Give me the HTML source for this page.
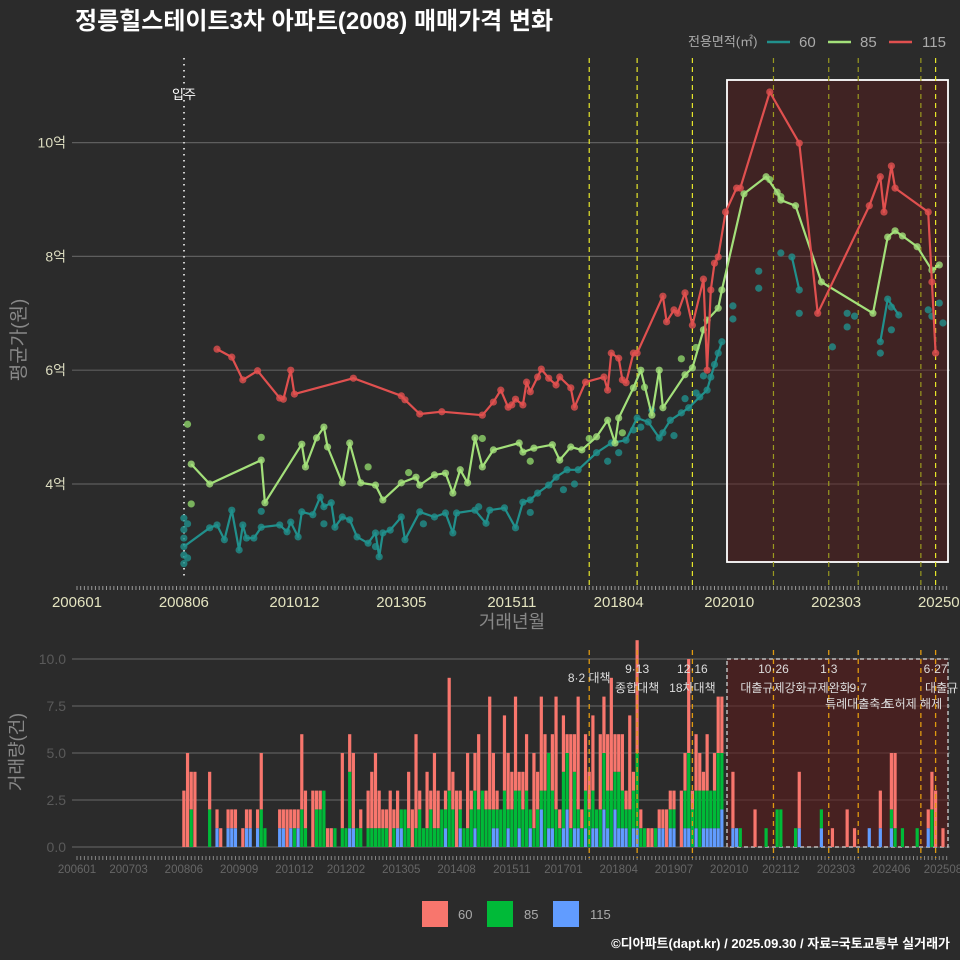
<!DOCTYPE html>
<html><head><meta charset="utf-8">
<style>
html,body{margin:0;padding:0;background:#2b2b2b;}
svg{display:block;font-family:"Liberation Sans","Noto Sans CJK KR",sans-serif;}
</style></head>
<body>
<svg id="chart" width="960" height="960" viewBox="0 0 960 960" xmlns="http://www.w3.org/2000/svg">
<rect width="960" height="960" fill="#2b2b2b"/>
<text x="75" y="29" fill="#ffffff" font-size="24" font-weight="bold">정릉힐스테이트3차 아파트(2008) 매매가격 변화</text>
<g id="legendTop">
<text x="688" y="46" fill="#aaaaaa" font-size="13">전용면적(㎡)</text>
<line x1="767" y1="42" x2="790" y2="42" stroke="#21908c" stroke-width="2.5"/><text x="799" y="47" fill="#aaaaaa" font-size="15">60</text>
<line x1="828" y1="42" x2="851" y2="42" stroke="#a3e07a" stroke-width="2.5"/><text x="860" y="47" fill="#aaaaaa" font-size="15">85</text>
<line x1="889" y1="42" x2="912" y2="42" stroke="#e0504f" stroke-width="2.5"/><text x="922" y="47" fill="#aaaaaa" font-size="15">115</text>
</g>
<g id="topPanel"></g>
<g id="botPanel"></g>
<text transform="translate(25,340) rotate(-90)" text-anchor="middle" fill="#888888" font-size="19">평균가(원)</text>
<text x="512" y="628" text-anchor="middle" fill="#888888" font-size="18">거래년월</text>
<text transform="translate(23,752) rotate(-90)" text-anchor="middle" fill="#888888" font-size="18">거래량(건)</text>
<g>
<rect x="422" y="901" width="26" height="26" fill="#f8766d"/><text x="458" y="919" fill="#aaaaaa" font-size="13">60</text>
<rect x="487" y="901" width="26" height="26" fill="#00ba38"/><text x="524" y="919" fill="#aaaaaa" font-size="13">85</text>
<rect x="553" y="901" width="26" height="26" fill="#619cff"/><text x="590" y="919" fill="#aaaaaa" font-size="13">115</text>
</g>
<text x="950" y="948" text-anchor="end" fill="#ffffff" font-size="13" font-weight="bold">©디아파트(dapt.kr) / 2025.09.30 / 자료=국토교통부 실거래가</text>
</svg>
<script>
// ---- data ----
const xTickLabelsTop = ['200601','200806','201012','201305','201511','201804','202010','202303','202508'];
const xTickLabelsBot = ['200601','200703','200806','200909','201012','201202','201305','201408','201511','201701','201804','201907','202010','202112','202303','202406','202508'];
const yTickValuesTop = [4,6,8,10];
const yTickLabelsTop = ['4억','6억','8억','10억'];
const yTickValuesBot = [0,2.5,5,7.5,10];
const yTickLabelsBot = ['0.0','2.5','5.0','7.5','10.0'];
const policyDates = ['201708','201809','201912','202110','202301','202309','202502','202506'];
const policyTop = ['8·2 대책','9·13','12·16','10·26','1·3','','','6·27'];
const policyBot = ['','종합대책','18차대책','대출규제강화','규제완화','9·7','','대출규'];
const policyBot2 = ['','','','','','특례대출축소','토허제 해제',''];

const dates115 = ['200903','200907','200910','201002','201008','201009','201011','201012','201204','201305','201306','201310','201404','201503','201506','201508','201510','201511','201512','201602','201603','201604','201606','201607','201609','201611','201612','201703','201704','201707','201712','201801','201802','201804','201805','201806','201808','201809','201904','201905','201907','201908','201910','201912','202003','202004','202005','202006','202007','202009','202012','202101','202109','202205','202210','202312','202403','202404','202406','202407','202504','202505','202506'];
const vals115 = [6.37,6.23,5.83,5.99,5.51,5.49,6.0,5.58,5.86,5.55,5.48,5.23,5.27,5.21,5.44,5.65,5.35,5.39,5.49,5.39,5.79,5.62,5.88,6.02,5.86,5.74,5.88,5.69,5.35,5.79,5.88,5.65,6.30,6.21,5.83,5.78,6.30,6.30,7.30,6.85,7.06,7.0,7.36,6.79,7.60,6.0,7.41,7.88,7.99,8.78,9.20,9.20,10.89,9.99,7.0,8.89,9.40,8.78,9.59,9.20,8.78,7.55,6.30];

const dates85 = ['200808','200901','201003','201004','201102','201103','201106','201108','201109','201201','201203','201206','201210','201212','201305','201309','201310','201402','201405','201407','201409','201411','201501','201503','201506','201601','201602','201605','201610','201612','201703','201706','201710','201801','201803','201804','201808','201810','201901','201903','201904','201910','201912','202003','202004','202007','202008','202102','202108','202111','202112','202204','202211','202401','202405','202407','202409','202501','202505','202507'];
const vals85 = [4.35,4.0,4.42,3.67,4.70,4.30,4.81,5.0,4.65,4.02,4.72,4.02,3.98,3.72,4.02,4.12,3.98,4.16,4.19,3.84,4.25,4.02,4.81,4.30,4.60,4.72,4.56,4.63,4.69,4.42,4.65,4.60,4.83,5.12,4.72,5.16,5.69,6.0,5.21,6.0,5.34,5.92,6.04,6.71,6.88,7.09,7.41,9.10,9.40,9.13,8.99,8.89,7.55,7.0,8.34,8.45,8.36,8.17,7.76,7.85];
const extraDates85 = ['200807','200808','201003','201208','201307','201503','201604','201708','201805','201811','201909','202001','202109','202112'];
const extraVals85 = [5.05,3.65,4.82,4.3,4.2,4.8,4.4,4.8,4.9,5.7,6.2,6.4,9.35,9.05];

const dates60 = ['200806','200901','200903','200905','200907','200909','200910','200911','201001','201003','201008','201010','201011','201101','201102','201105','201107','201108','201110','201111','201201','201203','201205','201208','201210','201211','201212','201302','201305','201306','201310','201402','201405','201407','201408','201501','201504','201505','201509','201512','201602','201604','201606','201609','201611','201702','201705','201710','201802','201806','201809','201812','201903','201906','201909','201911','202002','202004','202005','202007','202008'];
const vals60 = [2.9,3.23,3.28,3.02,3.54,2.84,3.28,3.05,3.05,3.24,3.28,3.16,3.33,3.07,3.51,3.46,3.77,3.6,3.67,3.24,3.42,3.37,3.07,2.96,3.14,2.72,3.14,3.19,3.42,3.02,3.51,3.42,3.49,3.14,3.49,3.54,3.31,3.54,3.58,3.23,3.68,3.72,3.84,3.98,4.12,4.25,4.25,4.55,4.72,4.77,5.16,5.09,4.81,5.12,5.25,5.34,5.53,5.65,5.88,6.30,6.5];
const segDates60a = ['202203','202205'];
const segVals60a = [7.99,7.41];
const segDates60b = ['202403','202405','202408'];
const segVals60b = [6.5,7.25,6.97];
const extraDates60 = ['200806','200806','200806','200806','200806','200807','200807','201003','201108','201210','201311','201502','201604','201701','201704','201801','201804','201808','201810','201901','201904','201907','201910','202001','202003','202006','202011','202011','202106','202106','202112','202205','202302','202306','202306','202308','202403','202406','202406','202504','202507','202508','202505'];
const extraVals60 = [3.4,3.2,2.6,2.75,3.05,2.7,3.3,3.52,3.3,2.9,3.3,3.6,3.5,3.9,4.0,4.4,4.55,4.95,5.0,5.3,4.9,4.85,5.5,5.6,5.9,6.1,7.13,6.9,7.74,7.44,8.06,7.0,6.41,7.0,6.76,6.95,6.3,7.11,6.71,7.06,7.18,6.83,6.95];

// monthly transaction counts from 200806 to 202508
const volStart = '200806';
const vol60 = [3,5,2,4,0,0,0,
 2,0,1,1,0,1,1,1,0,1,1,1,
 0,1,3,0,0,0,0,1,1,2,1,1,
 1,4,2,0,3,1,1,0,1,1,0,0,
 4,0,2,4,0,1,0,2,3,4,2,1,
 1,3,1,2,0,0,3,2,5,1,0,3,
 1,4,2,0,1,6,2,3,1,0,4,1,
 2,4,0,1,6,3,1,0,4,3,2,5,
 1,2,3,0,4,2,5,3,0,3,6,1,
 3,1,5,2,6,1,3,2,4,0,4,3,
 3,6,2,2,3,1,5,1,6,1,0,1,
 1,0,1,1,2,1,1,0,3,2,5,1,
 3,2,1,3,0,2,3,3,0,0,3,0,
 0,0,0,0,2,0,0,0,0,0,0,0,
 0,0,0,0,3,0,0,0,0,0,0,0,
 0,1,0,0,0,2,0,1,0,0,0,0,
 0,0,2,0,0,3,4,0,0,0,0,0,
 0,0,0,1,2,3,0,1];
const vol85 = [0,0,2,0,0,0,0,
 2,0,0,0,0,0,0,0,0,0,0,0,
 0,0,2,1,0,0,0,0,0,0,0,1,
 0,2,1,0,0,2,2,3,0,0,1,0,
 1,1,3,0,1,1,0,1,1,1,1,1,
 1,0,1,0,1,2,1,0,1,2,1,1,
 2,1,1,2,1,3,2,0,1,1,1,2,
 2,2,3,2,2,1,1,2,3,1,2,3,
 2,2,3,1,1,2,1,3,4,2,2,1,
 3,3,1,3,1,1,2,2,2,1,2,3,
 2,3,2,3,2,1,2,2,4,1,1,0,
 0,1,0,0,0,1,1,0,0,2,4,2,
 2,3,2,2,2,2,4,3,0,0,0,0,
 1,0,0,0,0,0,0,1,0,0,2,2,
 0,0,0,1,0,0,0,0,0,0,1,0,
 0,0,0,0,0,0,0,0,0,0,0,0,
 0,0,0,0,0,1,1,0,1,0,0,0,
 1,0,0,0,2,0,0,0];
const vol115 = [0,0,0,0,0,0,0,
 0,0,1,0,0,1,1,1,0,0,1,1,
 0,1,0,0,0,0,0,1,1,0,1,0,
 1,0,0,0,0,0,0,0,0,0,0,0,
 0,0,1,1,0,0,0,0,0,0,0,0,
 0,0,0,1,1,0,0,0,0,0,0,0,
 0,0,0,0,1,0,0,0,1,0,0,0,
 1,0,0,0,0,1,1,0,0,1,0,0,
 1,0,0,1,0,0,2,0,1,1,0,0,
 1,2,0,1,1,0,1,0,1,1,0,2,
 1,0,2,1,1,1,0,1,1,0,0,0,
 0,0,1,1,0,1,1,0,0,1,1,0,
 1,0,1,1,1,1,1,2,0,0,1,1,
 0,0,0,0,0,0,0,0,0,0,0,0,
 0,0,0,0,1,0,0,0,0,0,1,0,
 0,0,0,0,0,0,0,0,0,0,0,1,
 0,0,1,0,0,1,0,0,0,0,0,0,
 0,0,0,1,0,0,0,0];

// ---- scales ----
const NS='http://www.w3.org/2000/svg';
function mIdx(s){return (parseInt(s.slice(0,4))-2006)*12+parseInt(s.slice(4,6))-1;}
function xS(s){return 77+mIdx(s)*3.685;}
function xM(m){return 77+m*3.685;}
function yT(v){return 484-(v-4)*56.9;}
function yB(c){return 847-c*18.8;}
function mk(parent,tag,attrs,text){const e=document.createElementNS(NS,tag);for(const k in attrs)e.setAttribute(k,attrs[k]);if(text!==undefined)e.textContent=text;parent.appendChild(e);return e;}

const topG=document.getElementById('topPanel');
const botG=document.getElementById('botPanel');

// ---- top panel ----
const tg=mk(topG,'g',{});


yTickValuesTop.forEach((v,i)=>{
  mk(tg,'line',{x1:72,x2:950,y1:yT(v),y2:yT(v),stroke:'#5e5e5e','stroke-width':1.2});
  const t=mk(tg,'text',{x:66,y:yT(v)+5,'text-anchor':'end',fill:'#dcdcc0','font-size':14},yTickLabelsTop[i]);
  
  
});
for(let m=0;m<=236;m++){mk(topG,'line',{x1:xM(m),x2:xM(m),y1:586,y2:590,stroke:'#999','stroke-width':1});}
xTickLabelsTop.forEach(s=>{
  const t=mk(topG,'text',{x:xS(s),y:607,'text-anchor':'middle',fill:'#e4e4c0','font-size':15},s);
  
  
});
const hr=mk(topG,'rect',{x:727,y:80,width:221,height:482,fill:'#5a1a1a','fill-opacity':0.45,stroke:'#ffffff','stroke-width':1.8});


const mv=mk(topG,'line',{x1:184,x2:184,y1:58,y2:580,stroke:'#cccccc','stroke-width':2,'stroke-dasharray':'1.5 4.5'});


const mvl=mk(topG,'text',{x:184,y:99,'text-anchor':'middle',fill:'#ffffff','font-size':13},'입주');


policyDates.forEach((d,i)=>{
  const inside=xS(d)>727&&i<7;
  const l=mk(topG,'line',{x1:xS(d),x2:xS(d),y1:58,y2:585,stroke:inside?'#9a9a20':'#e6e62a','stroke-width':1.2,'stroke-dasharray':'5 4'});
  
  
});
function drawSeries(dates,vals,color,name,line){
  const g=mk(topG,'g',{});
  
  
  if(line){
    const pts=dates.map((d,i)=>xS(d).toFixed(1)+','+yT(vals[i]).toFixed(1)).join(' ');
    const pl=mk(g,'polyline',{points:pts,fill:'none',stroke:color,'stroke-width':2.2,'stroke-linejoin':'round'});
    
    
  }
  dates.forEach((d,i)=>{
    const c=mk(g,'circle',{cx:xS(d),cy:yT(vals[i]),r:3.6,fill:color,'fill-opacity':0.8});
    
    
  });
}
drawSeries(extraDates60,extraVals60,'#21908c','series-60-extra',false);
drawSeries(dates60,vals60,'#21908c','series-60',true);
drawSeries(segDates60a,segVals60a,'#21908c','series-60-seg-a',true);
drawSeries(segDates60b,segVals60b,'#21908c','series-60-seg-b',true);
drawSeries(extraDates85,extraVals85,'#8fd46a','series-85-extra',false);
drawSeries(dates85,vals85,'#a3e07a','series-85',true);
drawSeries(dates115,vals115,'#e0504f','series-115',true);

// ---- bottom panel ----
yTickValuesBot.forEach((v,i)=>{
  mk(botG,'line',{x1:72,x2:950,y1:yB(v),y2:yB(v),stroke:'#5e5e5e','stroke-width':1.2});
  const t=mk(botG,'text',{x:66,y:yB(v)+5,'text-anchor':'end',fill:'#5a5a5a','font-size':14},yTickLabelsBot[i]);
  
  
});
for(let m=0;m<=236;m++){mk(botG,'line',{x1:xM(m),x2:xM(m),y1:856,y2:860,stroke:'#888','stroke-width':1});}
xTickLabelsBot.forEach(s=>{
  const t=mk(botG,'text',{x:xS(s),y:873,'text-anchor':'middle',fill:'#666666','font-size':11.5},s);
  
  
});
const hb=mk(botG,'rect',{x:727,y:659,width:221,height:188,fill:'#5a1a1a','fill-opacity':0.6,stroke:'#bbbbbb','stroke-width':1.5,'stroke-dasharray':'4 3'});


const s0=mIdx(volStart);
vol60.forEach((c60,i)=>{
  const x=xM(s0+i)-1.6,w=3.2;
  const c115=vol115[i],c85=vol85[i];
  if(c115>0){const r=mk(botG,'rect',{x:x,y:yB(c115),width:w,height:yB(0)-yB(c115),fill:'#619cff'});}
  if(c85>0){const r=mk(botG,'rect',{x:x,y:yB(c115+c85),width:w,height:yB(c115)-yB(c115+c85),fill:'#00ba38'});}
  if(c60>0){const r=mk(botG,'rect',{x:x,y:yB(c115+c85+c60),width:w,height:yB(c115+c85)-yB(c115+c85+c60),fill:'#f8766d'});}
});
policyDates.forEach((d,i)=>{
  const l=mk(botG,'line',{x1:xS(d),x2:xS(d),y1:650,y2:858,stroke:'#e09a10','stroke-width':1.3,'stroke-dasharray':'5 4'});
  
  
  if(policyTop[i]){const t=mk(botG,'text',{x:xS(d),y:i===0?682:673,'text-anchor':'middle',fill:'#dddddd','font-size':12},policyTop[i]);}
  if(policyBot[i]){const t=mk(botG,'text',{x:xS(d)+(i===7?6:0),y:692,'text-anchor':'middle',fill:'#dddddd','font-size':12},policyBot[i]);}
  if(policyBot2[i]){const t=mk(botG,'text',{x:xS(d)+(i===6?-8:0),y:708,'text-anchor':'middle',fill:'#dddddd','font-size':12},policyBot2[i]);}
});
</script>
</body></html>
